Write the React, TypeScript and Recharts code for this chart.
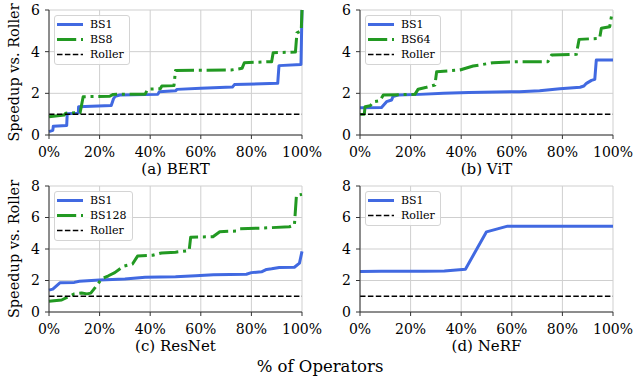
import React from 'react';
import { LineChart, Line, XAxis, YAxis, CartesianGrid } from 'recharts';

// ---- data: operator percentile (x, %) vs speedup over Roller (y) ----
const PCT_TICKS = [0, 20, 40, 60, 80, 100];
const Y_TICKS_6 = [0, 2, 4, 6];
const Y_TICKS_8 = [0, 2, 4, 6, 8];

const ROLLER_X = [0, 100];
const ROLLER_Y = [1, 1];

const BERT_BS1_X = [0, 1.5, 1.7, 7.0, 7.2, 11.6, 11.7, 24.6, 25.5, 26.2, 28.0, 43.0, 43.6, 50.0, 50.6, 60.0, 72.5, 73.3, 90.4, 90.9, 99.6, 100];
const BERT_BS1_Y = [0.16, 0.22, 0.42, 0.46, 1.02, 1.05, 1.36, 1.42, 1.74, 1.86, 1.92, 1.95, 2.08, 2.12, 2.19, 2.24, 2.3, 2.42, 2.48, 3.33, 3.38, 6.0];
const BERT_BS8_X = [0, 6.0, 6.6, 12.3, 13.5, 24.0, 25.4, 38.0, 39.0, 44.0, 44.6, 49.4, 50.0, 72.0, 76.3, 77.2, 88.0, 88.6, 97.4, 98.0, 99.7, 100];
const BERT_BS8_Y = [0.88, 0.96, 1.05, 1.07, 1.84, 1.86, 1.95, 1.96, 2.2, 2.22, 2.35, 2.37, 3.1, 3.12, 3.2, 3.47, 3.52, 3.95, 3.98, 4.9, 5.0, 6.0];

const VIT_BS1_X = [0, 8.5, 10.5, 12.5, 13.0, 15.0, 23.7, 33, 43, 63, 71, 79, 87, 88.5, 89.5, 91.5, 92.8, 93.4, 100];
const VIT_BS1_Y = [1.31, 1.32, 1.6, 1.68, 1.84, 1.92, 1.95, 2.0, 2.04, 2.08, 2.12, 2.22, 2.29, 2.35, 2.48, 2.62, 2.67, 3.6, 3.6];
const VIT_BS64_X = [0, 1.7, 2.0, 4.0, 5.3, 7.9, 9.2, 21.7, 23.0, 26.3, 29.6, 30.3, 39.5, 44.7, 52.6, 63.0, 74.3, 75.7, 85.5, 86.6, 94.7, 95.4, 98.7, 99.6, 100];
const VIT_BS64_Y = [0.99, 1.0, 1.36, 1.4, 1.6, 1.65, 1.92, 1.95, 2.2, 2.29, 2.4, 3.04, 3.12, 3.31, 3.47, 3.52, 3.52, 3.84, 3.87, 4.59, 4.64, 5.12, 5.2, 5.84, 5.9];

const RESNET_BS1_X = [0, 1.5, 4.3, 10, 12, 20, 30, 38, 50, 58, 65, 78, 80, 84, 86, 88, 91, 97, 99, 100];
const RESNET_BS1_Y = [1.39, 1.45, 1.85, 1.88, 1.95, 2.03, 2.1, 2.2, 2.24, 2.3, 2.36, 2.4, 2.5, 2.55, 2.7, 2.74, 2.82, 2.84, 3.1, 3.85];
const RESNET_BS128_X = [0, 5, 7.6, 10, 12.9, 15, 16.5, 18.5, 20.8, 23.5, 26, 29.4, 33, 35, 41, 44.5, 50, 55.4, 56, 64.8, 67.5, 74, 75.4, 84.6, 95, 97, 97.8, 100];
const RESNET_BS128_Y = [0.69, 0.76, 0.97, 1.15, 1.2, 1.15, 1.2, 1.6, 2.1, 2.3, 2.5, 2.9, 3.05, 3.55, 3.6, 3.75, 3.8, 3.9, 4.75, 4.78, 5.1, 5.14, 5.28, 5.33, 5.41, 5.52, 7.4, 7.47];

const NERF_BS1_X = [0, 8.33, 16.67, 25, 33.33, 41.67, 50, 58.33, 66.67, 75, 83.33, 91.67, 100];
const NERF_BS1_Y = [2.57, 2.58, 2.58, 2.59, 2.61, 2.72, 5.09, 5.45, 5.45, 5.45, 5.45, 5.45, 5.45];

// ---- styling ----
const FONT = '"DejaVu Serif", serif';
const BLUE = '#4169e1';
const GREEN = '#229922';

type Kind = 'single' | 'batched' | 'roller';
const LINE_STYLE: Record<Kind, { stroke: string; width: number; dash?: string }> = {
  single: { stroke: BLUE, width: 3 },
  batched: { stroke: GREEN, width: 3, dash: '19.2 4.8 3 4.8' },
  roller: { stroke: '#000', width: 1.5, dash: '5.5 2.4' },
};

type Series = { name: string; kind: Kind; xs: number[]; ys: number[] };

const toPoints = (xs: number[], ys: number[]) => xs.map((x, i) => ({ x, y: ys[i] }));

function LegendBox({ left, top, items }: { left: number; top: number; items: Series[] }) {
  return (
    <div
      style={{
        position: 'absolute',
        left,
        top,
        background: 'rgba(255,255,255,0.85)',
        border: '1px solid #d4d4d4',
        borderRadius: 3,
        padding: '1px 5px 2px 2px',
        fontFamily: FONT,
        fontSize: 11,
        lineHeight: '15px',
        color: '#000',
      }}
    >
      {items.map((s) => {
        const st = LINE_STYLE[s.kind];
        return (
          <div key={s.name} style={{ display: 'flex', alignItems: 'center', height: 15 }}>
            <svg width={26} height={15} style={{ marginRight: 7, display: 'block' }}>
              <line x1={0} y1={7.5} x2={26} y2={7.5} stroke={st.stroke} strokeWidth={st.width} strokeDasharray={st.dash} />
            </svg>
            <span>{s.name}</span>
          </div>
        );
      })}
    </div>
  );
}

type PanelProps = {
  left: number;
  top: number;
  width: number;
  height: number;
  marginRight: number;
  yWidth: number;
  xHeight: number;
  yMax: number;
  yTicks: number[];
  caption: string;
  captionOffset: number;
  yLabel?: string;
  series: Series[];
};

function Panel(p: PanelProps) {
  const plotTop = 10;
  return (
    <div style={{ position: 'absolute', left: p.left, top: p.top, width: p.width, height: p.height }}>
      <LineChart width={p.width} height={p.height} margin={{ top: plotTop, right: p.marginRight, bottom: 0, left: 0 }}>
        <CartesianGrid stroke="#cfcfcf" strokeWidth={1} />
        <XAxis
          type="number"
          dataKey="x"
          domain={[0, 100]}
          ticks={PCT_TICKS}
          interval={0}
          tickFormatter={(v: number) => `${v}%`}
          height={p.xHeight}
          tickSize={4}
          tickMargin={8}
          stroke="#333"
          tick={{ fill: '#000', fontSize: 14, fontFamily: FONT }}
          label={{ value: p.caption, position: 'insideBottom', offset: p.captionOffset, fill: '#000', fontSize: 15, fontFamily: FONT }}
        />
        <XAxis xAxisId="top" orientation="top" type="number" domain={[0, 100]} height={0} tick={false} tickLine={false} stroke="#333" />
        <YAxis
          type="number"
          domain={[0, p.yMax]}
          ticks={p.yTicks}
          interval={0}
          width={p.yWidth}
          tickSize={4}
          tickMargin={5}
          stroke="#333"
          tick={{ fill: '#000', fontSize: 14, fontFamily: FONT }}
          label={
            p.yLabel
              ? {
                  value: p.yLabel,
                  angle: -90,
                  position: 'insideLeft',
                  offset: 14,
                  fill: '#000',
                  fontSize: 14.5,
                  fontFamily: FONT,
                  style: { textAnchor: 'middle' },
                }
              : undefined
          }
        />
        <YAxis yAxisId="right" orientation="right" type="number" domain={[0, p.yMax]} width={0} tick={false} tickLine={false} stroke="#333" />
        {p.series.map((s) => {
          const st = LINE_STYLE[s.kind];
          return (
            <Line
              key={s.name}
              name={s.name}
              data={toPoints(s.xs, s.ys)}
              dataKey="y"
              type="linear"
              stroke={st.stroke}
              strokeWidth={st.width}
              strokeDasharray={st.dash}
              strokeLinejoin="round"
              dot={false}
              activeDot={false}
              isAnimationActive={false}
            />
          );
        })}
      </LineChart>
      <LegendBox left={p.yWidth + 5} top={plotTop + 5} items={p.series} />
    </div>
  );
}

const roller: Series = { name: 'Roller', kind: 'roller', xs: ROLLER_X, ys: ROLLER_Y };

export default function App() {
  return (
    <div style={{ position: 'absolute', left: 0, top: 0, width: 634, height: 381, overflow: 'hidden', background: '#fff' }}>
      <Panel
        left={0}
        top={0}
        width={340}
        height={180}
        marginRight={38}
        yWidth={49}
        xHeight={45}
        yMax={6}
        yTicks={Y_TICKS_6}
        caption="(a) BERT"
        captionOffset={6}
        yLabel="Speedup vs. Roller"
        series={[
          { name: 'BS1', kind: 'single', xs: BERT_BS1_X, ys: BERT_BS1_Y },
          { name: 'BS8', kind: 'batched', xs: BERT_BS8_X, ys: BERT_BS8_Y },
          roller,
        ]}
      />
      <Panel
        left={320}
        top={0}
        width={320}
        height={180}
        marginRight={27}
        yWidth={40}
        xHeight={45}
        yMax={6}
        yTicks={Y_TICKS_6}
        caption="(b) ViT"
        captionOffset={6}
        series={[
          { name: 'BS1', kind: 'single', xs: VIT_BS1_X, ys: VIT_BS1_Y },
          { name: 'BS64', kind: 'batched', xs: VIT_BS64_X, ys: VIT_BS64_Y },
          roller,
        ]}
      />
      <Panel
        left={0}
        top={176}
        width={340}
        height={180}
        marginRight={38}
        yWidth={49}
        xHeight={44}
        yMax={8}
        yTicks={Y_TICKS_8}
        caption="(c) ResNet"
        captionOffset={5}
        yLabel="Speedup vs. Roller"
        series={[
          { name: 'BS1', kind: 'single', xs: RESNET_BS1_X, ys: RESNET_BS1_Y },
          { name: 'BS128', kind: 'batched', xs: RESNET_BS128_X, ys: RESNET_BS128_Y },
          roller,
        ]}
      />
      <Panel
        left={320}
        top={176}
        width={320}
        height={180}
        marginRight={27}
        yWidth={40}
        xHeight={44}
        yMax={8}
        yTicks={Y_TICKS_8}
        caption="(d) NeRF"
        captionOffset={5}
        series={[{ name: 'BS1', kind: 'single', xs: NERF_BS1_X, ys: NERF_BS1_Y }, roller]}
      />
      <svg width={634} height={381} style={{ position: 'absolute', left: 0, top: 0, pointerEvents: 'none' }}>
        <text x={320} y={372} textAnchor="middle" fontFamily={FONT} fontSize={16.5} fill="#000">
          % of Operators
        </text>
      </svg>
    </div>
  );
}
